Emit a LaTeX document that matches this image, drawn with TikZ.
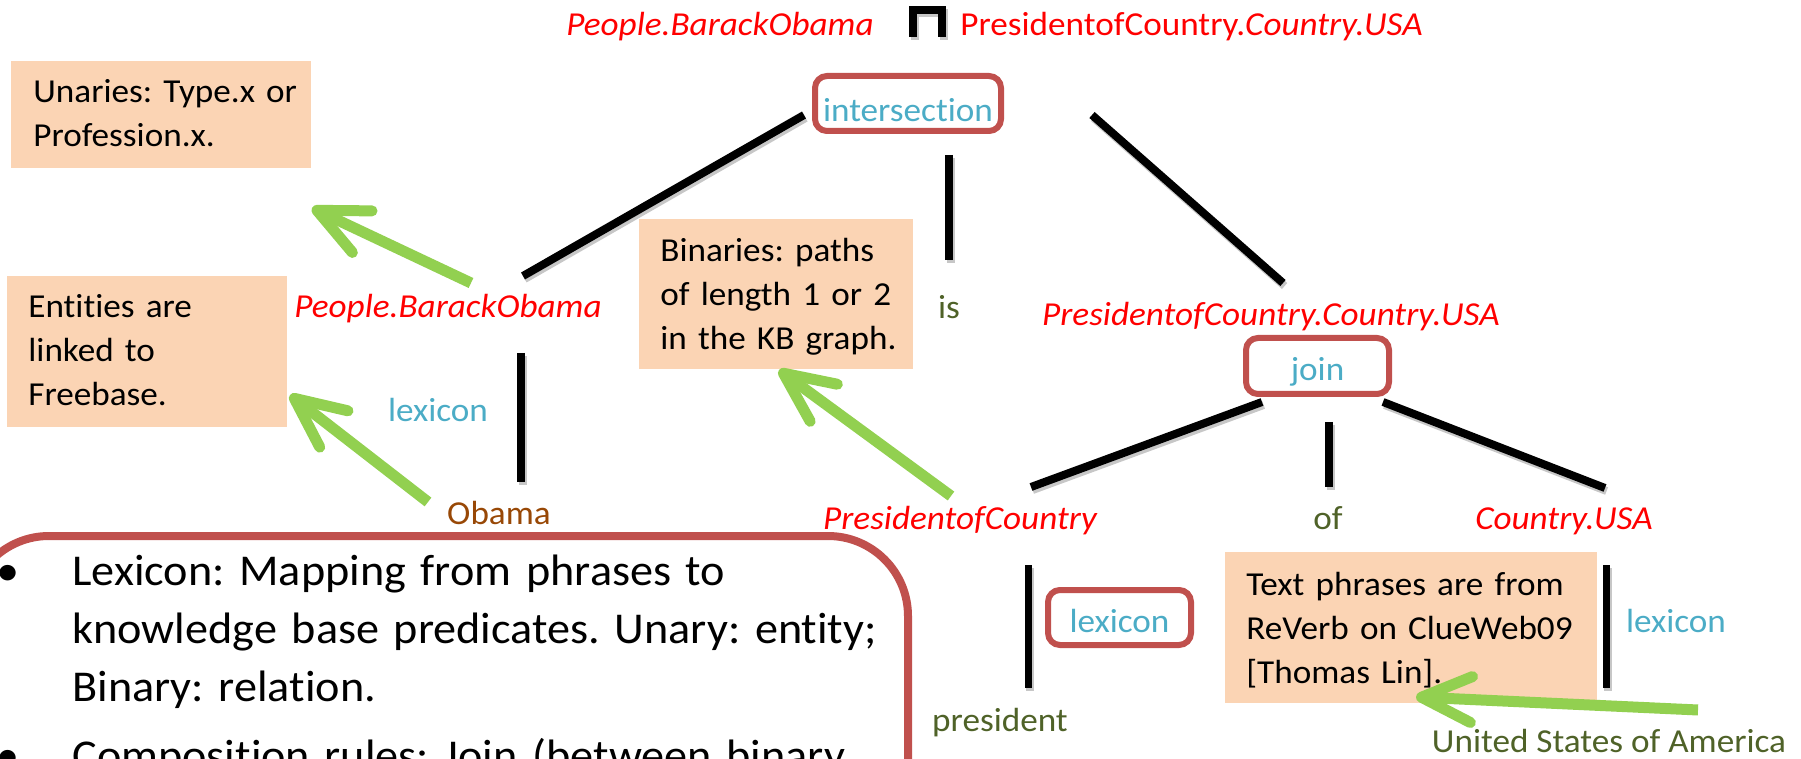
\documentclass[tikz,border=0pt]{standalone}
\usepackage{fontspec}
\setmainfont{Carlito}[FakeStretch=1.05, Ligatures={NoCommon}]
\usetikzlibrary{arrows.meta}

\definecolor{kbred}{HTML}{FF0000}
\definecolor{opblue}{HTML}{4BACC6}
\definecolor{framered}{HTML}{C0504D}
\definecolor{notefill}{HTML}{FBD4B4}
\definecolor{pointgreen}{HTML}{92D050}
\definecolor{wordgreen}{HTML}{4F6228}
\definecolor{namebrown}{HTML}{984806}

\newcommand\lblfont{\fontsize{16.75pt}{22pt}\selectfont}
\newcommand\bulletfont{\fontsize{22pt}{29.25pt}\selectfont}
\frenchspacing

\begin{document}
\begin{tikzpicture}[x=0.5pt,y=-0.5pt,
  lbl/.style={inner sep=0pt, anchor=base, font=\lblfont},
  pred/.style={lbl, text=kbred, font=\lblfont\itshape},
  word/.style={lbl, text=wordgreen},
  opname/.style={lbl, text=opblue},
  opbox/.style={draw=framered, line width=3pt, rounded corners=6pt, fill=white,
    text=opblue, font=\lblfont, inner sep=0pt, text height=15pt, text depth=0pt},
  notebox/.style={fill=notefill, inner sep=0pt, outer sep=0pt, anchor=north west},
  notetext/.style={inner sep=0pt, anchor=base west, align=left, text width=220pt, font=\lblfont},
  bulletmark/.style={inner sep=0pt, anchor=base, font=\bulletfont},
  bullettext/.style={inner sep=0pt, anchor=base west, align=left, text width=480pt, font=\bulletfont},
  shadowed/.style={preaction={draw=black!22, line width=4pt,
    transform canvas={shift={(0.8pt,-1.5pt)}}}},
  treeline/.style={line width=4pt, shadowed},
  pointer/.style={draw=pointgreen, line width=5.5pt,
    -{Straight Barb[length=25pt,width=23pt,round]}},
]
\useasboundingbox (0,0) rectangle (1801,759);
\clip (0,0) rectangle (1801,759);

% ---- formula at the top: left operand, meet sign, right operand ----
\node[pred] (hl) at (720,36) {People.BarackObama};
\coordinate (meetL) at (913,37);
\coordinate (meetR) at (942,37);
\draw[line width=4pt, line join=miter, shadowed] (meetL) |- (927.5,10) -| (meetR);
\node[lbl, anchor=base west, text=kbred] (hr) at (960,36) {PresidentofCountry.\textit{Country.USA}};

% ---- operator boxes ----
\node[opbox, minimum width=93pt, minimum height=27.5pt, text height=18.5pt] (ix) at (908,103.5) {intersection};
\node[opbox, minimum width=71.5pt, minimum height=28pt] (jn) at (1317.5,366) {join};
\node[opbox, minimum width=71.5pt, minimum height=27.5pt] (lx) at (1119.5,617.5) {lexicon};

% ---- tree labels ----
\node[pred] (pbo) at (448,318) {People.BarackObama};
\node[word] (is) at (949,319) {is};
\node[pred] (pcu) at (1271,326) {PresidentofCountry.Country.USA};
\node[opname] (lxa) at (438,422) {lexicon};
\node[lbl, text=namebrown] (obama) at (499,524) {Obama};
\node[pred] (pc) at (960,530) {PresidentofCountry};
\node[word] (of) at (1328,530) {of};
\node[pred] (cusa) at (1564,530) {Country.USA};
\node[opname] (lxb) at (1676,632) {lexicon};
\node[word] (pres) at (1000,731) {president};
\node[word] (usa) at (1609,752) {United States of America};

% ---- note boxes ----
\node[notebox, minimum width=150pt, minimum height=53.5pt] (unary) at (11,61) {};
\node[notetext] (unaryt) at (33,103) {Unaries: Type.x or\\Profession.x.};
\node[notebox, minimum width=140pt, minimum height=75.5pt] (ent) at (7,276) {};
\node[notetext] (entt) at (28,318) {Entities are\\linked to\\Freebase.};
\node[notebox, minimum width=137pt, minimum height=75pt] (bin) at (639,219) {};
\node[notetext] (bint) at (660,262) {Binaries: paths\\of length 1 or 2\\in the KB graph.};
\node[notebox, minimum width=186pt, minimum height=75.5pt] (rev) at (1225,552) {};
\node[notetext] (revt) at (1246,595) {Text phrases are from\\ReVerb on ClueWeb09\\{[Thomas Lin].}};

% ---- tree edge end points ----
\coordinate (ixL) at (804,115);   \coordinate (pboT) at (523,276);
\coordinate (ixM) at (949,155);   \coordinate (isT) at (949,260);
\coordinate (ixR) at (1092,115);  \coordinate (pcuT) at (1283,283);
\coordinate (pboB) at (521,353);  \coordinate (obT) at (521,482);
\coordinate (jnL) at (1262,402);  \coordinate (pcT) at (1031,487);
\coordinate (jnM) at (1329,422);  \coordinate (ofT) at (1329,487);
\coordinate (jnR) at (1383,402);  \coordinate (cuT) at (1605,488);
\coordinate (pcB) at (1028,565);  \coordinate (presT) at (1028,688);
\coordinate (cuB) at (1606,565);  \coordinate (usaT) at (1606,688);

\draw[treeline] (ixL) -- (pboT);
\draw[treeline] (ixM) -- (isT);
\draw[treeline] (ixR) -- (pcuT);
\draw[treeline] (pboB) -- (obT);
\draw[treeline] (jnL) -- (pcT);
\draw[treeline] (jnM) -- (ofT);
\draw[treeline] (jnR) -- (cuT);
\draw[treeline, line width=3.5pt] (pcB) -- (presT);
\draw[treeline, line width=3.5pt] (cuB) -- (usaT);

% ---- pointers to the notes ----
\coordinate (p1s) at (471,283);  \coordinate (p1e) at (312,208);
\coordinate (p2s) at (428,502);  \coordinate (p2e) at (290,395);
\coordinate (p3s) at (951,496);  \coordinate (p3e) at (779,370);
\coordinate (p4s) at (1698,710); \coordinate (p4e) at (1416,697);
\draw[pointer] (p1s) -- (p1e);
\draw[pointer] (p2s) -- (p2e);
\draw[pointer] (p3s) -- (p3e);
\draw[pointer] (p4s) -- (p4e);

% ---- summary panel ----
\node[draw=framered, line width=4pt, rounded corners=40pt, minimum width=469.5pt,
  minimum height=300pt, anchor=north west, inner sep=0pt, outer sep=0pt] (summary) at (-31,536) {};
\node[bulletmark] (b1) at (8,585) {•};
\node[bullettext] (b1t) at (72,585) {Lexicon: Mapping from phrases to\\knowledge base predicates. Unary: entity;\\Binary: relation.};
\node[bulletmark] (b2) at (8,770) {•};
\node[bullettext] (b2t) at (72,770) {Composition rules: Join (between binary};
\end{tikzpicture}
\end{document}
